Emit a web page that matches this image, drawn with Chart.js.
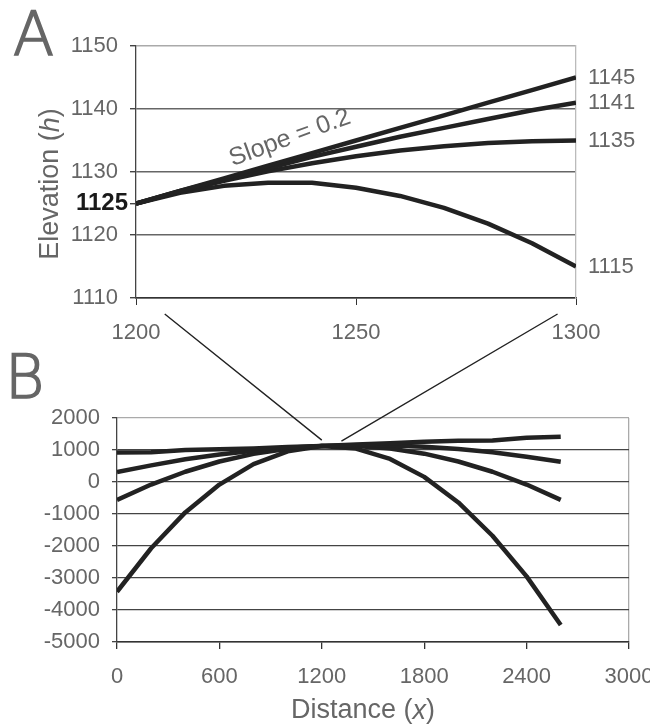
<!DOCTYPE html>
<html>
<head>
<meta charset="utf-8">
<script src="https://cdn.jsdelivr.net/npm/chart.js@4.4.1/dist/chart.umd.min.js"></script>
<style>
  html, body { margin: 0; padding: 0; background: #fff; }
  #wrap { position: relative; width: 650px; height: 728px; overflow: hidden; }
  #chartA { position: absolute; left: 0; top: 0; }
  #chartB { position: absolute; left: 0; top: 300px; }
  .panel { position: absolute; font-family: "DejaVu Sans", sans-serif; font-weight: 200;
           font-size: 60px; line-height: 59px; color: #666; -webkit-text-stroke: 1.6px #666; }
</style>
</head>
<body>
<div id="wrap">
  <canvas id="chartA" width="650" height="345" style="width:650px;height:345px"></canvas>
  <canvas id="chartB" width="650" height="428" style="width:650px;height:428px"></canvas>
  <div class="panel" style="left:13px;top:5px">A</div>
  <div class="panel" style="left:5px;top:348px">B</div>
</div>
<script>
// --- panel A : close-up between x = 1200 and 1300
const aX = [1200, 1210, 1220, 1230, 1240, 1250, 1260, 1270, 1280, 1290, 1300];
const aLine1 = [1125, 1127, 1129, 1131, 1133, 1135, 1137, 1139, 1141, 1143, 1145];
const aLine2 = [1125, 1127, 1128.8, 1130.6, 1132.4, 1134, 1135.6, 1137, 1138.4, 1139.8, 1141];
const aLine3 = [1125, 1126.9, 1128.6, 1130.1, 1131.4, 1132.5, 1133.4, 1134.1, 1134.6, 1134.9, 1135];
const aLine4 = [1125, 1126.7, 1127.8, 1128.3, 1128.3, 1127.5, 1126.2, 1124.3, 1121.8, 1118.7, 1115];
const aEndLabels = [1145, 1141, 1135, 1115];
const aStartLabel = 1125;

// --- panel B : whole profile
const bX = [0, 200, 400, 600, 800, 1000, 1200, 1400, 1600, 1800, 2000, 2200, 2400, 2600];
const bLine1 = [920, 930, 1000, 1020, 1050, 1090, 1125, 1170, 1210, 1260, 1290, 1300, 1380, 1415];
const bLine2 = [310, 520, 710, 860, 980, 1070, 1125, 1150, 1140, 1100, 1030, 930, 790, 630];
const bLine3 = [-560, -80, 320, 640, 880, 1040, 1125, 1125, 1045, 885, 640, 320, -80, -560];
const bLine4 = [-3430, -2070, -950, -80, 560, 960, 1125, 1045, 720, 160, -640, -1680, -2950, -4470];

// zoom connectors: from A's x axis to points in B
const linkFrom = [1202, 1302];
const linkTo = [[1200, 1310], [1315, 1280]];

const FONT = '"Liberation Sans", Arial, sans-serif';
const GREY = '#666';
const TICK = 22;
const B_TOP = 300;      // canvas B offset on the page
const LINK_START = 314; // page y where connectors become visible

function toPoints(xs, ys) {
  return xs.map((x, i) => ({ x: x, y: ys[i] }));
}

function lineSet(xs, ys) {
  return {
    data: toPoints(xs, ys),
    borderColor: '#222',
    borderWidth: 4.5,
    pointRadius: 0,
    tension: 0,
    borderJoinStyle: 'round'
  };
}

// text with an italic part, centered on (0,0) of current transform
function drawMixed(ctx, parts, size) {
  let total = 0;
  parts.forEach(p => {
    ctx.font = (p.it ? 'italic ' : '') + size + 'px ' + FONT;
    p.w = ctx.measureText(p.t).width;
    total += p.w;
  });
  let x = -total / 2;
  ctx.textAlign = 'left';
  ctx.textBaseline = 'middle';
  parts.forEach(p => {
    ctx.font = (p.it ? 'italic ' : '') + size + 'px ' + FONT;
    ctx.fillText(p.t, x, 0);
    x += p.w;
  });
}

const plain = v => String(v);

// keep the plot edges where they are, whatever the label overhang
const noSidePad = s => { s.paddingLeft = 0; s.paddingRight = 0; };

const decorA = {
  id: 'decorA',
  afterDraw(chart) {
    const ctx = chart.ctx;
    const area = chart.chartArea;
    const xs = chart.scales.x, ys = chart.scales.y;
    ctx.save();
    ctx.fillStyle = GREY;
    // axis title
    ctx.save();
    ctx.translate(51, (area.top + area.bottom) / 2 + 12);
    ctx.rotate(-Math.PI / 2);
    drawMixed(ctx, [{ t: 'Elevation (' }, { t: 'h', it: true }, { t: ')' }], 27);
    ctx.restore();
    // starting value, set close to the axis
    ctx.fillStyle = '#1a1a1a';
    ctx.font = 'bold 24px ' + FONT;
    ctx.textAlign = 'right';
    ctx.textBaseline = 'middle';
    ctx.fillText(String(aStartLabel), area.left - 8, ys.getPixelForValue(aStartLabel));
    // slope note
    ctx.fillStyle = GREY;
    ctx.save();
    ctx.translate(xs.getPixelForValue(1235), ys.getPixelForValue(1135.4));
    ctx.rotate(-20 * Math.PI / 180);
    ctx.font = '25px ' + FONT;
    ctx.textAlign = 'center';
    ctx.textBaseline = 'middle';
    ctx.fillText('Slope = 0.2', 0, 0);
    ctx.restore();
    ctx.restore();
  }
};

const chartA = new Chart(document.getElementById('chartA'), {
  type: 'line',
  data: {
    datasets: [lineSet(aX, aLine1), lineSet(aX, aLine2), lineSet(aX, aLine3), lineSet(aX, aLine4)]
  },
  options: {
    responsive: false,
    animation: false,
    devicePixelRatio: 1,
    layout: { padding: { top: 46, left: 0, right: 0, bottom: 0 } },
    plugins: { legend: { display: false }, tooltip: { enabled: false } },
    scales: {
      x: {
        type: 'linear', min: 1200, max: 1300,
        ticks: { stepSize: 50, callback: plain, color: GREY, font: { family: FONT, size: TICK }, padding: 15, maxRotation: 0 },
        grid: { drawOnChartArea: false, tickLength: 7, tickColor: '#333' },
        border: { color: '#333', width: 1.5 },
        afterFit: s => { s.height = 47; noSidePad(s); }
      },
      y: {
        min: 1110, max: 1150,
        afterBuildTicks: s => {
          s.ticks.push({ value: aStartLabel });
          s.ticks.sort((p, q) => p.value - q.value);
        },
        ticks: {
          stepSize: 10, autoSkip: false, padding: 12, color: GREY, font: { family: FONT, size: TICK },
          callback: v => (v === aStartLabel ? '' : String(v))
        },
        grid: {
          color: c => {
            if (!c.tick) return '#666';
            if (c.tick.value === 1150) return '#aaa';
            if (c.tick.value === aStartLabel) return 'rgba(0,0,0,0)';
            return '#666';
          },
          lineWidth: 1.4, tickLength: 6, tickColor: '#444'
        },
        border: { color: '#444', width: 1.3 },
        afterFit: s => { s.width = 136; }
      },
      y2: {
        position: 'right', min: 1110, max: 1150,
        afterBuildTicks: s => { s.ticks = aEndLabels.slice().sort((p, q) => p - q).map(v => ({ value: v })); },
        ticks: { callback: plain, autoSkip: false, color: GREY, font: { family: FONT, size: TICK }, padding: 12 },
        grid: { drawOnChartArea: false, drawTicks: false },
        border: { color: '#bbb', width: 1.3 },
        afterFit: s => { s.width = 74; }
      }
    }
  },
  plugins: [decorA]
});

const decorB = {
  id: 'decorB',
  afterDatasetsDraw(chart) {
    const ctx = chart.ctx;
    const xs = chart.scales.x, ys = chart.scales.y;
    const xa = chartA.scales.x, ya = chartA.scales.y;
    ctx.save();
    ctx.strokeStyle = '#222';
    ctx.lineWidth = 1.4;
    ctx.beginPath();
    linkFrom.forEach((fx, i) => {
      const x0 = xa.getPixelForValue(fx);
      const y0 = ya.getPixelForValue(1110) - B_TOP;
      const x1 = xs.getPixelForValue(linkTo[i][0]);
      const y1 = ys.getPixelForValue(linkTo[i][1]);
      const ys0 = LINK_START - B_TOP;
      const t = (ys0 - y0) / (y1 - y0);
      ctx.moveTo(x0 + t * (x1 - x0), ys0);
      ctx.lineTo(x1, y1);
    });
    ctx.stroke();
    ctx.restore();
  },
  afterDraw(chart) {
    const ctx = chart.ctx;
    const area = chart.chartArea;
    ctx.save();
    ctx.fillStyle = GREY;
    ctx.translate((area.left + area.right) / 2 - 10, 711 - B_TOP);
    drawMixed(ctx, [{ t: 'Distance (' }, { t: 'x', it: true }, { t: ')' }], 27);
    ctx.restore();
  }
};

const chartB = new Chart(document.getElementById('chartB'), {
  type: 'line',
  data: {
    datasets: [lineSet(bX, bLine1), lineSet(bX, bLine2), lineSet(bX, bLine3), lineSet(bX, bLine4)]
  },
  options: {
    responsive: false,
    animation: false,
    devicePixelRatio: 1,
    layout: { padding: { top: 118, left: 0, right: 21, bottom: 0 } },
    plugins: { legend: { display: false }, tooltip: { enabled: false } },
    scales: {
      x: {
        type: 'linear', min: 0, max: 3000,
        ticks: { stepSize: 600, callback: plain, color: GREY, font: { family: FONT, size: TICK }, padding: 15, maxRotation: 0 },
        grid: {
          color: c => (c.tick && c.tick.value === 3000) ? '#aaa' : 'rgba(0,0,0,0)',
          lineWidth: 1.3, tickLength: 7, tickColor: '#333'
        },
        border: { color: '#333', width: 1.5 },
        afterFit: s => { s.height = 86; noSidePad(s); }
      },
      y: {
        min: -5000, max: 2000,
        ticks: { stepSize: 1000, callback: plain, autoSkip: false, color: GREY, font: { family: FONT, size: TICK }, padding: 12 },
        grid: {
          color: c => (c.tick && c.tick.value === 2000) ? '#aaa' : '#444',
          lineWidth: 1.3, tickLength: 5, tickColor: '#444'
        },
        border: { color: '#444', width: 1.3 },
        afterFit: s => { s.width = 117; }
      }
    }
  },
  plugins: [decorB]
});
</script>
</body>
</html>
